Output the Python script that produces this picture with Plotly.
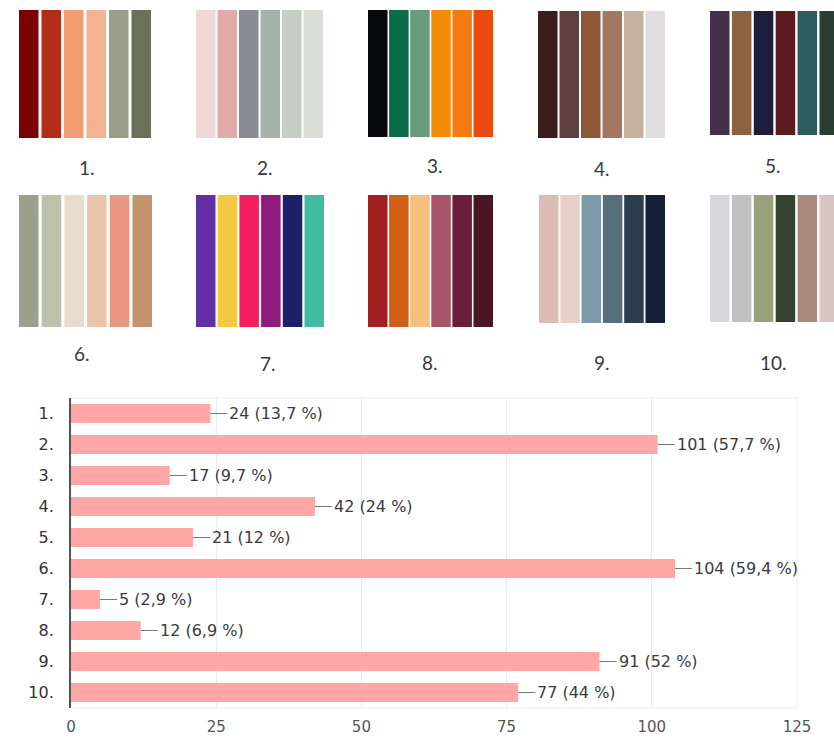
import plotly.graph_objects as go

W, H = 834, 738

# ---- survey results -------------------------------------------------------
options = ["1.", "2.", "3.", "4.", "5.", "6.", "7.", "8.", "9.", "10."]
votes = [24, 101, 17, 42, 21, 104, 5, 12, 91, 77]
shares = ["13,7", "57,7", "9,7", "24", "12", "59,4", "2,9", "6,9", "52", "44"]
x_ticks = [0, 25, 50, 75, 100, 125]

# ---- colour palettes shown above the chart --------------------------------
palette_names = ["1.", "2.", "3.", "4.", "5.", "6.", "7.", "8.", "9.", "10."]
palette_1 = ["#7a0202", "#b32c18", "#f09b70", "#f4b290", "#9a9e88", "#697259"]
palette_2 = ["#f1d8d8", "#e0abaa", "#8a8c91", "#a5b1a9", "#c5cdc5", "#dbddd7"]
palette_3 = ["#05070a", "#0a6b48", "#6b9b7d", "#f38b06", "#f47a12", "#ea4a0c"]
palette_4 = ["#3b1d1b", "#5e3f3f", "#8e5838", "#a47761", "#c5b19d", "#e1dddd"]
palette_5 = ["#45304b", "#8b6340", "#1c1e3b", "#5e1a1f", "#2c5c5b", "#283f31"]
palette_6 = ["#9aa089", "#bcc1a9", "#e8dccc", "#e9c5ae", "#e9977f", "#c4956d"]
palette_7 = ["#622fa5", "#f4c942", "#f41f5f", "#8f1a7d", "#1e1f69", "#41bca0"]
palette_8 = ["#a11f21", "#d25f18", "#f3c17b", "#a85569", "#6e1c3b", "#4a1525"]
palette_9 = ["#dcbdb5", "#e5d1c9", "#7f9ba9", "#576f7d", "#2c3d51", "#131f35"]
palette_10 = ["#d6d7da", "#c1c1c1", "#97a27b", "#354131", "#a98b7d", "#d7c5c1"]
palettes = [palette_1, palette_2, palette_3, palette_4, palette_5,
            palette_6, palette_7, palette_8, palette_9, palette_10]

# swatch block placement (pixels, top-left origin)
block_left = [19, 196, 368, 538, 710, 19, 196, 368, 539, 710]
block_right = [151, 323, 493, 665, 839, 152, 324, 493, 665, 839]
block_top = [10, 10, 10, 11, 11, 195, 195, 195, 195, 195]
block_bottom = [138, 138, 137, 138, 135, 327, 327, 327, 323, 322]
label_x = [87, 265, 435, 602, 773, 82, 268, 430, 602, 773]
label_y = [167, 167, 165, 168, 165, 353, 363, 362, 362, 362]
SWATCH_W = 19.5

BAR_COLOR = "#ffa7a7"
FONT = "DejaVu Sans"

fig = go.Figure()

# horizontal bar chart of votes
fig.add_trace(go.Bar(
    x=votes, y=options, orientation="h",
    width=0.61,
    marker=dict(color=BAR_COLOR, line=dict(width=0)),
    hoverinfo="skip", showlegend=False,
))

# value labels with a short leader line; category positions by index
for idx, (v, s) in enumerate(zip(votes, shares)):
    fig.add_annotation(
        x=v, y=idx, xref="x", yref="y",
        text=f"{v} ({s} %)",
        showarrow=True, arrowhead=0, arrowwidth=1, arrowcolor="#7a7a7a",
        ax=17, ay=0, xanchor="left", standoff=0,
        font=dict(family=FONT, size=16, color="#3a3a42"),
    )

# colour swatches, drawn as bars on a pixel-space axis pair
for i, pal in enumerate(palettes):
    pitch = (block_right[i] - block_left[i] - SWATCH_W) / (len(pal) - 1)
    centers = [block_left[i] + SWATCH_W / 2 + k * pitch for k in range(len(pal))]
    fig.add_trace(go.Bar(
        x=centers,
        y=[block_bottom[i] - block_top[i]] * len(pal),
        base=[block_top[i]] * len(pal),
        width=[SWATCH_W] * len(pal),
        marker=dict(color=pal, line=dict(width=0)),
        xaxis="x2", yaxis="y2",
        hoverinfo="skip", showlegend=False,
    ))
    fig.add_annotation(
        x=label_x[i], y=label_y[i], xref="x2", yref="y2",
        text=palette_names[i], showarrow=False,
        font=dict(family="Lato", size=19, color="#383838"),
    )

# light frame around the plotting area
fig.add_shape(type="rect", xref="x domain", yref="y domain",
              x0=0, x1=1, y0=0, y1=1,
              line=dict(color="#eeeeee", width=1), layer="below")

plot_top, plot_bottom, plot_left, plot_right = 398, 708, 71, 797

fig.update_layout(
    template="none",
    width=W, height=H,
    margin=dict(l=0, r=0, t=0, b=0, pad=0),
    paper_bgcolor="white", plot_bgcolor="rgba(0,0,0,0)",
    barmode="overlay", showlegend=False,
    xaxis=dict(
        domain=[plot_left / W, plot_right / W],
        range=[0, 125], tickvals=x_ticks,
        showgrid=True, gridcolor="#ebebeb", gridwidth=1,
        zeroline=False, showline=False, automargin=False,
        ticks="", ticklabelstandoff=8,
        tickfont=dict(family=FONT, size=15, color="#555555"),
        fixedrange=True, anchor="y",
    ),
    yaxis=dict(
        type="category",
        domain=[(H - plot_bottom) / H, (H - plot_top) / H],
        categoryorder="array", categoryarray=options,
        autorange="reversed",
        showgrid=False, zeroline=False, automargin=False,
        showline=True, linecolor="#555555", linewidth=2,
        ticks="", ticklabelstandoff=12,
        tickfont=dict(family=FONT, size=16, color="#333333"),
        fixedrange=True, anchor="x",
    ),
    xaxis2=dict(domain=[0, 1], range=[0, W], visible=False, automargin=False,
                anchor="y2", fixedrange=True),
    yaxis2=dict(domain=[0, 1], range=[H, 0], visible=False, automargin=False,
                anchor="x2", fixedrange=True),
)

fig.write_html("out.html")
